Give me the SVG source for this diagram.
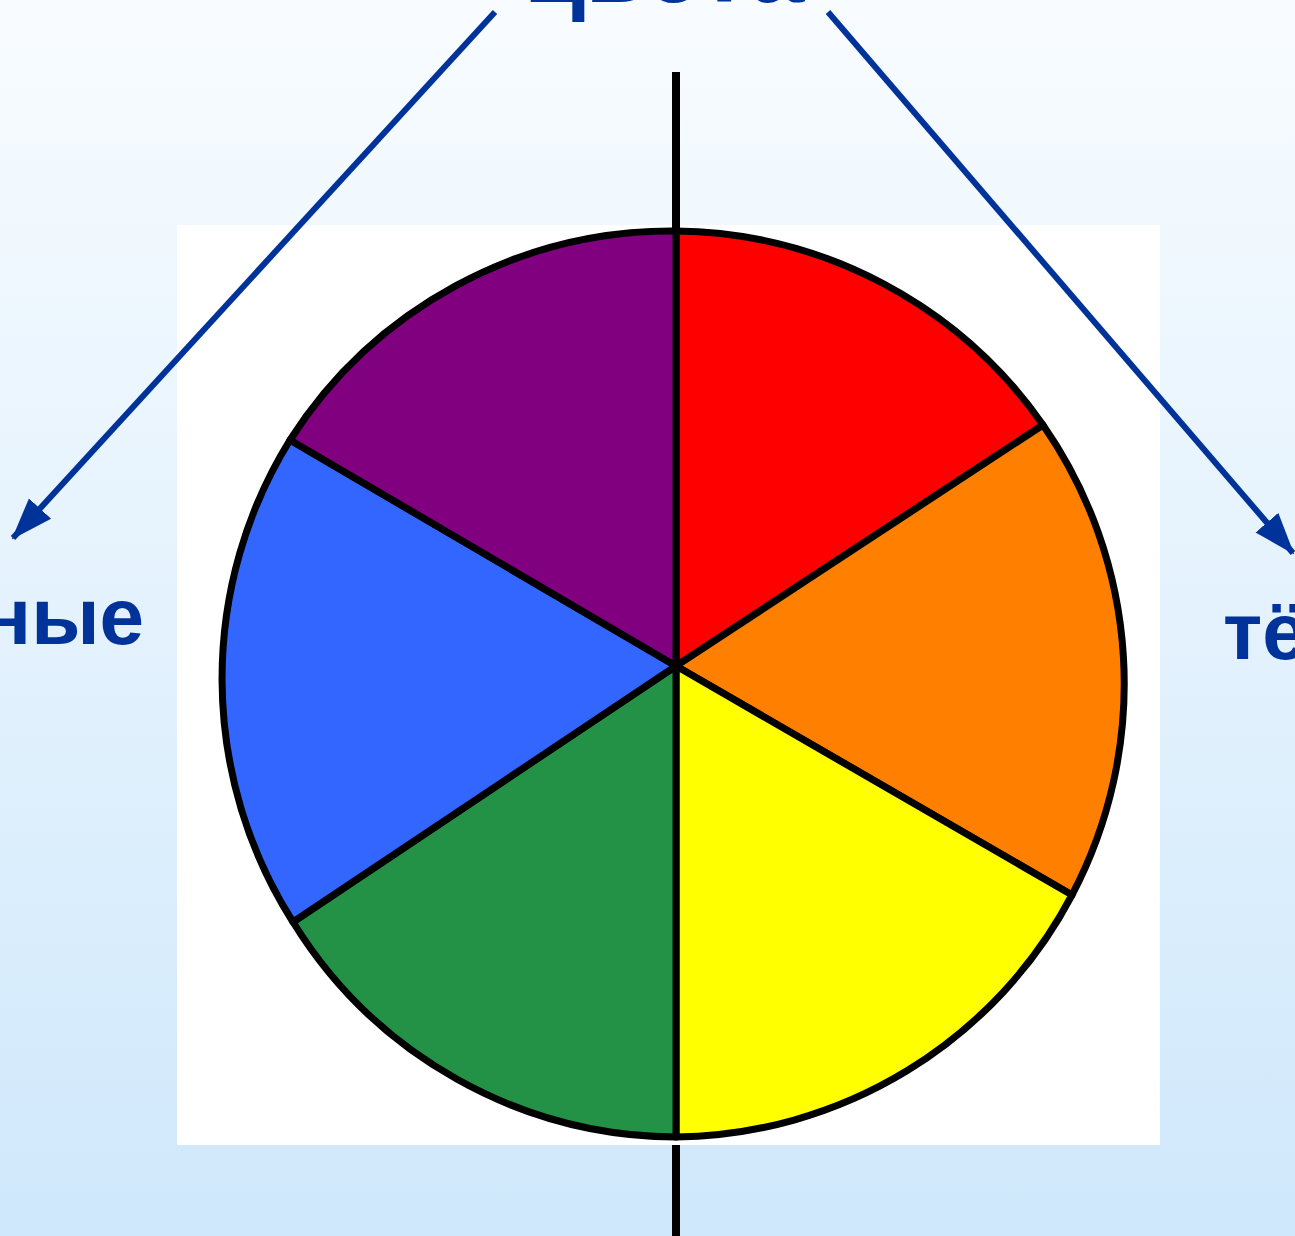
<svg xmlns="http://www.w3.org/2000/svg" width="1295" height="1236" viewBox="0 0 1295 1236">
  <defs>
    <linearGradient id="bg" x1="0" y1="0" x2="0" y2="1">
      <stop offset="0" stop-color="#f8fcff"/>
      <stop offset="1" stop-color="#cfe8fb"/>
    </linearGradient>
    <marker id="ah" viewBox="0 0 42 32" refX="40" refY="16" markerWidth="42" markerHeight="32" markerUnits="userSpaceOnUse" orient="auto">
      <path d="M0,1 L42,16 L0,31 Z" fill="#003399"/>
    </marker>
    <style>
      .lbl { font-family: "Liberation Sans", Arial, sans-serif; font-weight: bold; fill: #003399; }
      .sec { stroke: #000; stroke-width: 7; stroke-linejoin: round; }
      .arrow { stroke: #003399; stroke-width: 6; fill: none; }
      .axis { stroke: #000; stroke-width: 8; }
    </style>
  </defs>
  <rect x="0" y="0" width="1295" height="1236" fill="url(#bg)"/>
  <rect x="177" y="225" width="983" height="920" fill="#ffffff"/>

  <g id="wheel">
    <path id="red" class="sec" fill="#ff0000" d="M676,666 L676,231 A453,453 0 0 1 1043,425 Z"/>
    <path id="orange" class="sec" fill="#ff8000" d="M676,666 L1043,425 A453,453 0 0 1 1072,895 Z"/>
    <path id="yellow" class="sec" fill="#ffff00" d="M676,666 L1072,895 A453,453 0 0 1 676,1137 Z"/>
    <path id="green" class="sec" fill="#239246" d="M676,666 L676,1137 A453,453 0 0 1 293,922 Z"/>
    <path id="blue" class="sec" fill="#3366ff" d="M676,666 L293,922 A453,453 0 0 1 290,440 Z"/>
    <path id="purple" class="sec" fill="#800080" d="M676,666 L290,440 A453,453 0 0 1 676,231 Z"/>
  </g>

  <g id="axis">
    <line class="axis" x1="676" y1="72" x2="676" y2="232"/>
    <line class="axis" x1="676" y1="1145" x2="676" y2="1236"/>
  </g>

  <g id="connectors">
    <line class="arrow" x1="495" y1="12" x2="13" y2="538" marker-end="url(#ah)"/>
    <line class="arrow" x1="828" y1="12" x2="1293" y2="553" marker-end="url(#ah)"/>
  </g>

  <g id="title"><text class="lbl" x="664" y="2" font-size="100" text-anchor="middle">цвета</text></g>
  <g id="left-label"><text class="lbl" x="144" y="644" font-size="80" text-anchor="end">ные</text></g>
  <g id="right-label"><text class="lbl" x="1223" y="659" font-size="80">тё</text></g>
</svg>
